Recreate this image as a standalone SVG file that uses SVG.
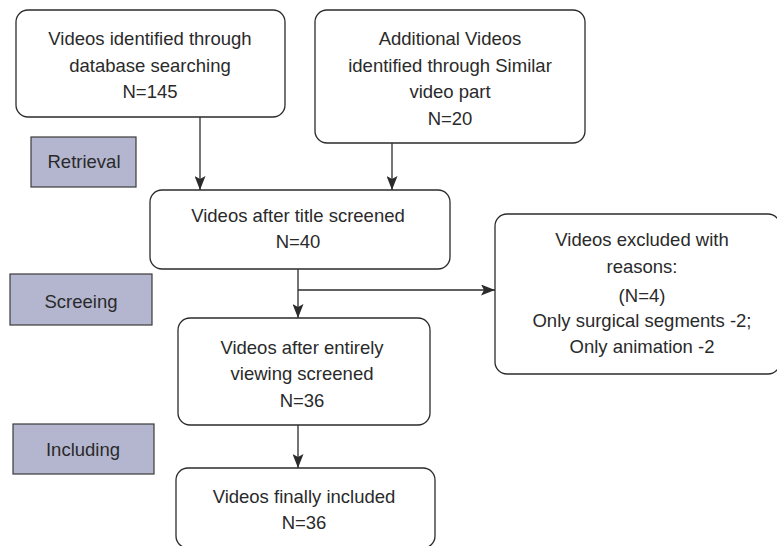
<svg xmlns="http://www.w3.org/2000/svg" width="777" height="546" viewBox="0 0 777 546">
<style>
.box{fill:#fff;stroke:#2b2b2b;stroke-width:1.3}
.lab{fill:#b4b6d0;stroke:#3a3a3a;stroke-width:1.2}
text{font-family:"Liberation Sans",Arial,sans-serif;font-size:18.5px;fill:#2a2a2a;text-anchor:middle}
.c{fill:none;stroke:#2b2b2b;stroke-width:1.3}
</style>
<defs>
<marker id="av" markerWidth="14" markerHeight="11" refX="14" refY="5.5" orient="auto" markerUnits="userSpaceOnUse" viewBox="0 0 14 11">
<path d="M0,0 L14,5.5 L0,11 L3,5.5 z" fill="#2b2b2b"/>
</marker>
</defs>
<rect width="777" height="546" fill="#fff"/>
<g id="connectors">
<line class="c" x1="200" y1="117" x2="200" y2="190" marker-end="url(#av)"/>
<line class="c" x1="392" y1="143" x2="392" y2="190" marker-end="url(#av)"/>
<line class="c" x1="298" y1="269" x2="298" y2="318" marker-end="url(#av)"/>
<line class="c" x1="298" y1="290" x2="495" y2="290" marker-end="url(#av)"/>
<line class="c" x1="298" y1="425" x2="298" y2="468" marker-end="url(#av)"/>
</g>
<g id="n1">
<rect class="box" x="16" y="10" width="269" height="107" rx="12"/>
<text x="150" y="45">Videos identified through</text>
<text x="150" y="72">database searching</text>
<text x="150" y="98">N=145</text>
</g>
<g id="n2">
<rect class="box" x="315" y="10" width="270" height="133" rx="12"/>
<text x="450" y="45">Additional Videos</text>
<text x="450" y="72">identified through Similar</text>
<text x="450" y="98">video part</text>
<text x="450" y="125">N=20</text>
</g>
<g id="retrieval">
<rect class="lab" x="31" y="137" width="105" height="50"/>
<text x="84" y="168">Retrieval</text>
</g>
<g id="n3">
<rect class="box" x="150" y="190" width="300" height="79" rx="12"/>
<text x="298" y="222">Videos after title screened</text>
<text x="298" y="248">N=40</text>
</g>
<g id="screeing">
<rect class="lab" x="10" y="274" width="142" height="51"/>
<text x="81" y="308">Screeing</text>
</g>
<g id="n5">
<rect class="box" x="495" y="214" width="285" height="160" rx="12"/>
<text x="642" y="246">Videos excluded with</text>
<text x="642" y="273">reasons:</text>
<text x="642" y="302">(N=4)</text>
<text x="642" y="327">Only surgical segments -2;</text>
<text x="642" y="353">Only animation -2</text>
</g>
<g id="n4">
<rect class="box" x="178" y="318" width="252" height="107" rx="12"/>
<text x="302" y="354">Videos after entirely</text>
<text x="302" y="380">viewing screened</text>
<text x="302" y="407">N=36</text>
</g>
<g id="including">
<rect class="lab" x="13" y="424" width="141" height="50"/>
<text x="83" y="456">Including</text>
</g>
<g id="n6">
<rect class="box" x="176" y="468" width="259" height="80" rx="12"/>
<text x="304" y="503">Videos finally included</text>
<text x="304" y="529">N=36</text>
</g>
</svg>
